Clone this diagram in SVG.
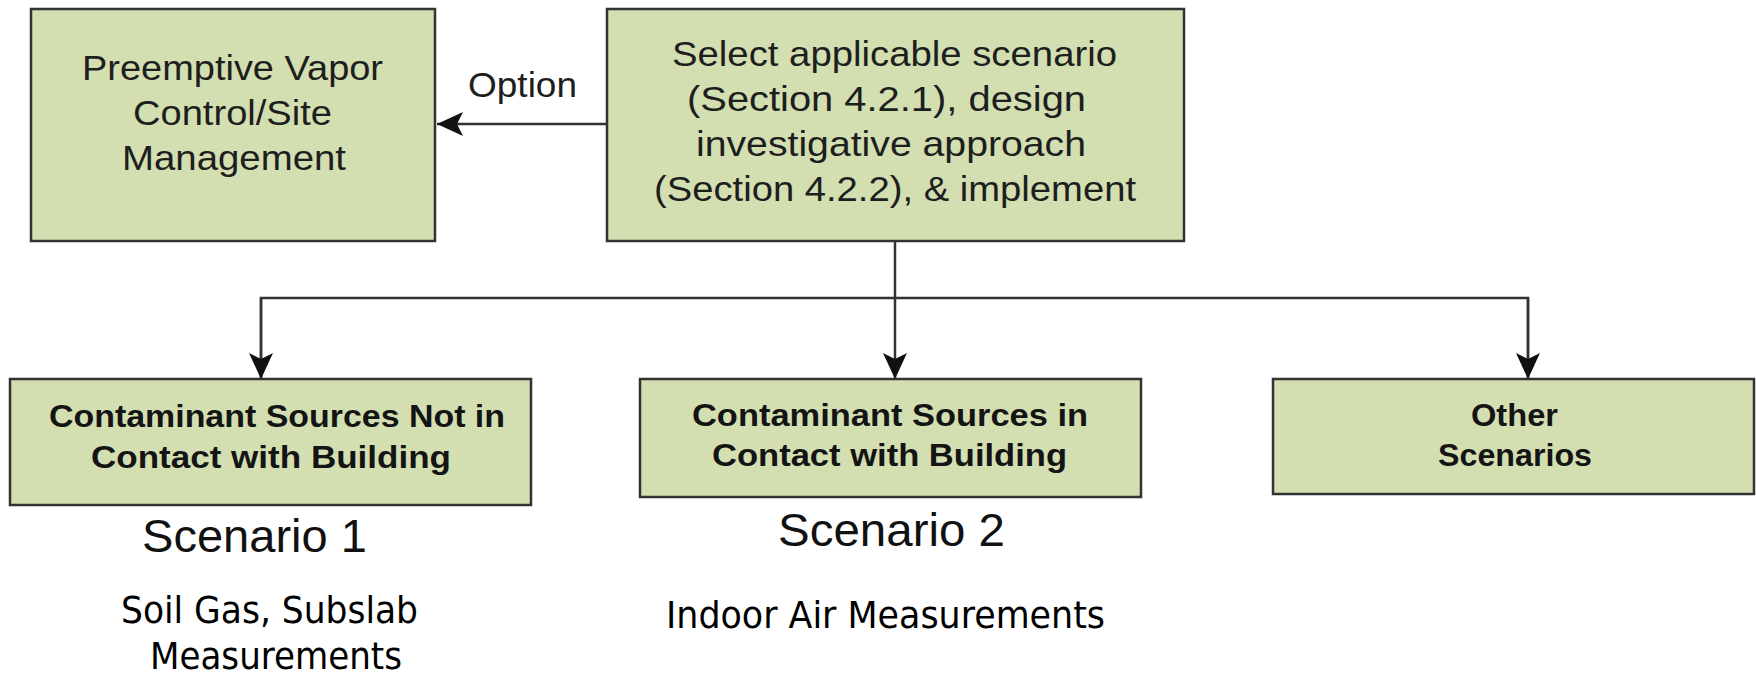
<svg xmlns="http://www.w3.org/2000/svg" width="1756" height="675" viewBox="0 0 1756 675">
<style>
.box{fill:#d3dfb1;stroke:#333333;stroke-width:2.5}
.t{font-family:"Liberation Sans",Arial,sans-serif;font-size:35px;fill:#1e1e1e;text-anchor:middle}
.b{font-family:"Liberation Sans",Arial,sans-serif;font-size:31px;font-weight:bold;fill:#141414;text-anchor:middle}
.s{font-family:"Liberation Sans",Arial,sans-serif;font-size:47px;fill:#111111;text-anchor:middle}
.m{font-family:"DejaVu Sans Condensed","DejaVu Sans",Verdana,sans-serif;font-size:38px;fill:#000000;text-anchor:middle}
.c{fill:none;stroke:#333333;stroke-width:2.5}
</style>
<defs>
<marker id="ah" viewBox="0 0 26 24" refX="26" refY="12" markerWidth="26" markerHeight="24" markerUnits="userSpaceOnUse" orient="auto">
<path d="M0,0 L26,12 L0,24 L6,12 Z" fill="#111111"/>
</marker>
</defs>
<g id="connectors">
<path class="c" d="M607,124 H437" marker-end="url(#ah)"/>
<path class="c" d="M895,241 V379" marker-end="url(#ah)"/>
<path class="c" d="M261,379 V298 H1528 V379" />
<path class="c" d="M261,298 V379" marker-end="url(#ah)"/>
<path class="c" d="M1528,298 V379" marker-end="url(#ah)"/>
<text class="t" x="522.5" y="97" textLength="109" lengthAdjust="spacingAndGlyphs">Option</text>
</g>
<g id="preemptive">
<rect class="box" x="31" y="9" width="404" height="232"/>
<text class="t" x="232.5" y="80" textLength="301" lengthAdjust="spacingAndGlyphs">Preemptive Vapor</text>
<text class="t" x="232.5" y="125" textLength="199" lengthAdjust="spacingAndGlyphs">Control/Site</text>
<text class="t" x="234" y="170" textLength="224" lengthAdjust="spacingAndGlyphs">Management</text>
</g>
<g id="select">
<rect class="box" x="607" y="9" width="577" height="232"/>
<text class="t" x="894.5" y="66" textLength="445" lengthAdjust="spacingAndGlyphs">Select applicable scenario</text>
<text class="t" x="886.5" y="111" textLength="399" lengthAdjust="spacingAndGlyphs">(Section 4.2.1), design</text>
<text class="t" x="891" y="156" textLength="390" lengthAdjust="spacingAndGlyphs">investigative approach</text>
<text class="t" x="895" y="201" textLength="482" lengthAdjust="spacingAndGlyphs">(Section 4.2.2), &amp; implement</text>
</g>
<g id="scenario1">
<rect class="box" x="10" y="379" width="521" height="126"/>
<text class="b" x="277" y="427" textLength="456" lengthAdjust="spacingAndGlyphs">Contaminant Sources Not in</text>
<text class="b" x="271" y="468" textLength="360" lengthAdjust="spacingAndGlyphs">Contact with Building</text>
<text class="s" x="254.5" y="552" textLength="225" lengthAdjust="spacingAndGlyphs">Scenario 1</text>
<text class="m" x="269.5" y="623" textLength="297" lengthAdjust="spacingAndGlyphs">Soil Gas, Subslab</text>
<text class="m" x="276" y="669" textLength="252" lengthAdjust="spacingAndGlyphs">Measurements</text>
</g>
<g id="scenario2">
<rect class="box" x="640" y="379" width="501" height="118"/>
<text class="b" x="890" y="426" textLength="396" lengthAdjust="spacingAndGlyphs">Contaminant Sources in</text>
<text class="b" x="889.5" y="466" textLength="355" lengthAdjust="spacingAndGlyphs">Contact with Building</text>
<text class="s" x="891.5" y="546" textLength="227" lengthAdjust="spacingAndGlyphs">Scenario 2</text>
<text class="m" x="885.5" y="628" textLength="439" lengthAdjust="spacingAndGlyphs">Indoor Air Measurements</text>
</g>
<g id="other">
<rect class="box" x="1273" y="379" width="481" height="115"/>
<text class="b" x="1514.5" y="426" textLength="87" lengthAdjust="spacingAndGlyphs">Other</text>
<text class="b" x="1515" y="466" textLength="154" lengthAdjust="spacingAndGlyphs">Scenarios</text>
</g>
</svg>
